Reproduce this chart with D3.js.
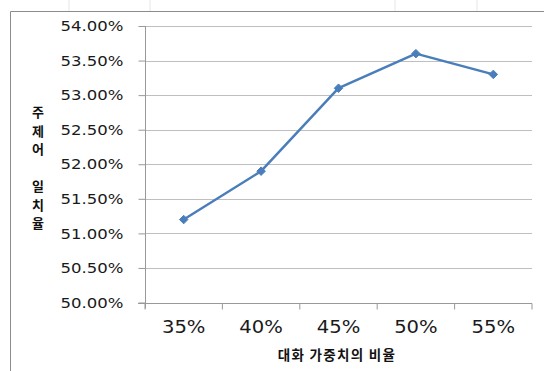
<!DOCTYPE html>
<html><head><meta charset="utf-8">
<script src="https://cdn.jsdelivr.net/npm/d3@7"></script>
<style>
html,body{margin:0;padding:0;background:#fff;}
svg{display:block;}
</style>
</head><body>
<svg id="c" width="544" height="371"></svg>
<script>
const categories = ["35%", "40%", "45%", "50%", "55%"];
const values = [51.2, 51.9, 53.1, 53.6, 53.3];
const yTicks = [50.0, 50.5, 51.0, 51.5, 52.0, 52.5, 53.0, 53.5, 54.0];
const xTitle = "대화 가중치의 비율";
const yTitleChars = ["주", "제", "어", "", "일", "치", "율"];

const svg = d3.select("#c");
const pL = 145, pR = 532, pT = 26, pB = 302.5;

// sheet gridline remnants & chart border
svg.selectAll("line.sheet").data([69, 150, 395, 477]).join("line")
  .attr("x1", d => d).attr("x2", d => d).attr("y1", 0).attr("y2", 11)
  .attr("stroke", "#e6e6e6").attr("stroke-width", 1);
svg.append("path").attr("d", "M10.5,371 V11.5 H544")
  .attr("fill", "none").attr("stroke", "#8c8c8c").attr("stroke-width", 1);

const x = d3.scaleBand().domain(categories).range([pL, pR]);
const y = d3.scaleLinear().domain([50, 54]).range([pB, pT]);

// gridlines
svg.append("g").selectAll("line").data(yTicks.filter(d => d > 50)).join("line")
  .attr("x1", pL).attr("x2", pR)
  .attr("y1", d => Math.round(y(d)) + 0.5).attr("y2", d => Math.round(y(d)) + 0.5)
  .attr("stroke", "#bfbfbf").attr("stroke-width", 1.2);

// y axis
const yS = 1.14;
const yAxis = svg.append("g").attr("transform", `translate(${pL + 0.5},0)`)
  .call(d3.axisLeft(y).tickValues(yTicks).tickSize(7).tickPadding(15)
    .tickFormat(d => d3.format(".2f")(d) + "%"));
yAxis.select(".domain").attr("stroke", "#999").attr("d", `M0,${pT}V${pB + 6}`);
yAxis.selectAll(".tick line").attr("stroke", "#999");
yAxis.selectAll(".tick text")
  .attr("font-family", "DejaVu Sans").attr("font-size", 14.5).attr("fill", "#1a1a1a")
  .attr("transform", `scale(${yS},1)`)
  .attr("x", -22 / yS);

// x axis
const xAxis = svg.append("g").attr("transform", `translate(0,${Math.round(pB) + 0.5})`)
  .call(d3.axisBottom(x).tickSize(0).tickPadding(17));
xAxis.select(".domain").attr("stroke", "#999").attr("d", `M${pL - 7},0H${pR}`);
xAxis.selectAll(".tick").each(function(d) {
  const cx = x(d) + x.bandwidth() / 2;
  d3.select(this).attr("transform", null);
  d3.select(this).select("text")
    .attr("font-family", "DejaVu Sans").attr("font-size", 17.5).attr("fill", "#1a1a1a")
    .attr("transform", "scale(1.12,1)")
    .attr("x", cx / 1.12).attr("y", 17);
});
xAxis.selectAll("line.bt").data(d3.range(categories.length + 1)).join("line")
  .attr("class", "bt")
  .attr("x1", i => pL + i * x.bandwidth()).attr("x2", i => pL + i * x.bandwidth())
  .attr("y1", 0).attr("y2", 6).attr("stroke", "#999");

// line
const line = d3.line()
  .x((d, i) => x(categories[i]) + x.bandwidth() / 2)
  .y(d => y(d));
svg.append("path").datum(values).attr("d", line)
  .attr("fill", "none").attr("stroke", "#4a7ebb").attr("stroke-width", 2.5)
  .attr("stroke-linejoin", "round");
svg.append("g").selectAll("path").data(values).join("path")
  .attr("transform", (d, i) => `translate(${x(categories[i]) + x.bandwidth() / 2},${y(d)})`)
  .attr("d", d3.symbol(d3.symbolDiamond2, 46)())
  .attr("fill", "#4a7ebb").attr("stroke", "#4a7ebb").attr("stroke-width", 1);

// titles
svg.append("text").attr("x", 337).attr("y", 360).attr("text-anchor", "middle")
  .attr("font-family", "Noto Sans CJK KR").attr("font-weight", "bold")
  .attr("font-size", 13.5).attr("letter-spacing", 1.3).attr("fill", "#111")
  .text(xTitle);
svg.append("g").selectAll("text").data(yTitleChars).join("text")
  .attr("x", 38).attr("y", (d, i) => 117 + i * 18.5)
  .attr("text-anchor", "middle")
  .attr("font-family", "Noto Sans CJK KR").attr("font-weight", "bold")
  .attr("font-size", 13).attr("fill", "#111")
  .text(d => d);
</script>
</body></html>
